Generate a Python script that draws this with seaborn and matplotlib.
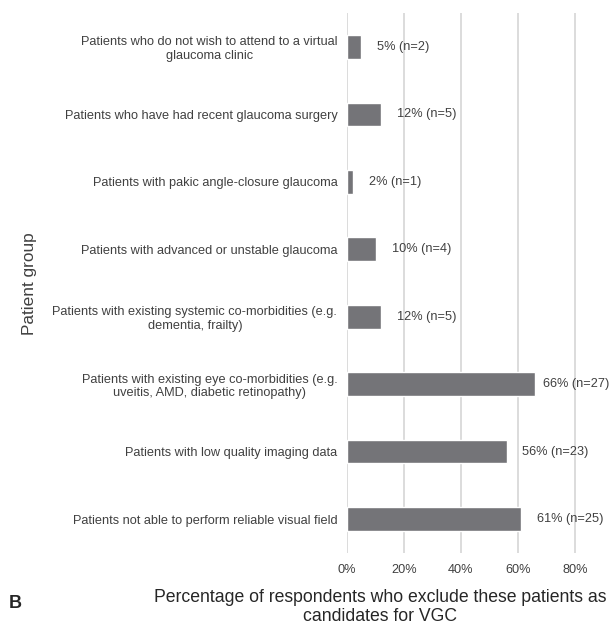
import matplotlib
matplotlib.use("Agg")
import matplotlib.pyplot as plt
import seaborn as sns
import pandas as pd

categories = [
    "Patients who do not wish to attend to a virtual\nglaucoma clinic",
    "Patients who have had recent glaucoma surgery",
    "Patients with pakic angle-closure glaucoma",
    "Patients with advanced or unstable glaucoma",
    "Patients with existing systemic co-morbidities (e.g.\ndementia, frailty)",
    "Patients with existing eye co-morbidities (e.g.\nuveitis, AMD, diabetic retinopathy)",
    "Patients with low quality imaging data",
    "Patients not able to perform reliable visual field",
]
percent = [5, 12, 2, 10, 12, 66, 56, 61]
counts = [2, 5, 1, 4, 5, 27, 23, 25]
x_ticks = [0, 20, 40, 60, 80]

sns.set_theme(style="white")
plt.rcParams["font.family"] = ["Liberation Sans", "DejaVu Sans"]

df = pd.DataFrame({"group": categories, "pct": percent, "n": counts})

fig = plt.figure(figsize=(6.10, 6.31), dpi=100)
ax = fig.add_axes([0.569, 0.124, 0.42, 0.855])

text_col = "#404040"
fs = 9.2
sns.barplot(data=df, y="group", x="pct", order=categories, color="#747478",
            saturation=1, width=0.35, orient="h", ax=ax, zorder=3)

ax.set_xlim(0, 90)
ax.set_ylim(len(categories) - 0.5, -0.5)
ax.set_xticks(x_ticks)
ax.set_xticklabels([f"{t}%" for t in x_ticks], fontsize=fs, color=text_col)
ax.tick_params(axis="x", length=0, pad=8)
ax.tick_params(axis="y", length=0, pad=7)
for lab in ax.get_yticklabels():
    lab.set_fontsize(fs)
    lab.set_color(text_col)
    lab.set_multialignment("center")

ax.grid(axis="x", color="#d9d9d9", linewidth=1.3, zorder=0)
ax.grid(axis="y", visible=False)
for s in ax.spines.values():
    s.set_visible(False)

# value labels; the longest bar's label is pulled in so it stays on the page
for i, (p, n) in enumerate(zip(percent, counts)):
    off = 6 if p >= 63 else 11.5
    ax.annotate(f"{p}% (n={n})", xy=(p, i), xytext=(off, 0),
                textcoords="offset points", va="center", ha="left",
                fontsize=fs, color=text_col, zorder=4)

ax.set_xlabel("")
ax.set_ylabel("Patient group", fontsize=12.4, color=text_col)
ax.yaxis.set_label_coords(37 / 610, 1 - 284 / 631, transform=fig.transFigure)

fig.text(380 / 610, 1 - 607 / 631,
         "Percentage of respondents who exclude these patients as\ncandidates for VGC",
         ha="center", va="center", fontsize=12.7, color="#262626", linespacing=1.15)
fig.text(15 / 610, 1 - 603 / 631, "B", ha="center", va="center",
         fontsize=13, fontweight="bold", color="#262626")

fig.savefig("out.png", dpi=100)
